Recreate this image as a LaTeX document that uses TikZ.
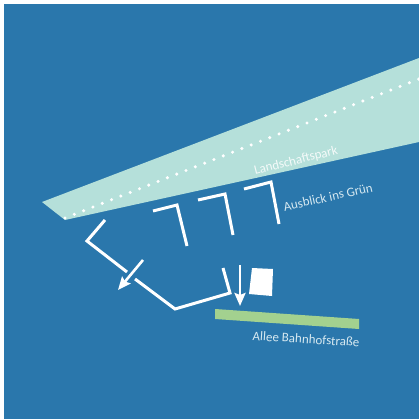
\documentclass[tikz,border=0pt]{standalone}
\usepackage{fontspec}
\setmainfont{Carlito}
\usepackage{xcolor}
\usetikzlibrary{arrows.meta}
\definecolor{seablue}{HTML}{2A77AC}
\definecolor{parkmint}{HTML}{B5E0DA}
\definecolor{alleegreen}{HTML}{A3D18F}
\definecolor{labelblue}{HTML}{D5E8F0}
\tikzset{
  pathline/.style={draw=white, line width=3pt, line join=miter},
  viewarrow/.style={-{Stealth[length=13pt,width=11pt,inset=2pt]}, white, line width=2.6pt},
  dotline/.style={white, line width=3.4pt, line cap=round, dash pattern=on 0pt off 10pt},
  placelabel/.style={font=\fontsize{13}{14}\selectfont, text=#1, inner sep=0pt},
  placelabel/.default=labelblue,
}

\begin{document}
\begin{tikzpicture}[x=1pt, y=-1pt]
\useasboundingbox (0,0) rectangle (419,419);
\fill[seablue] (4,4) rectangle (419,419);
% park wedge
\fill[parkmint] (42,202) -- (419,58) -- (419,142) -- (65,220) -- cycle;
\draw[dotline] (65,218) -- (419,79);
\node[placelabel=white!85!parkmint, rotate=14] (park) at (296,161) {Landschaftspark};
% three sevens
\draw[pathline] (153,211) -- (177,205) -- (187,246);
\draw[pathline] (198,200) -- (225,194) -- (233,235);
\draw[pathline] (244,189) -- (271,182) -- (279,224);
\node[placelabel, rotate=12.5] (view) at (328,197) {Ausblick ins Grün};
% main path
\draw[pathline] (105,220) -- (87,241) -- (127,272);
\draw[pathline] (135,279) -- (175,309) -- (230,293) -- (223,268);
\coordinate (a1) at (143,260);
\coordinate (a2) at (118,290);
\coordinate (b1) at (240,265);
\coordinate (b2) at (240,306);
\draw[viewarrow] (a1) -- (a2);
\draw[viewarrow] (b1) -- (b2);
% house and alley
\fill[white] (252,268) -- (273,269) -- (272,296) -- (249,294) -- cycle;
\fill[alleegreen] (215,309) -- (359,319) -- (359,329) -- (215,319) -- cycle;
\node[placelabel, rotate=-3.5] (allee) at (306,339) {Allee Bahnhofstraße};
\end{tikzpicture}
\end{document}
